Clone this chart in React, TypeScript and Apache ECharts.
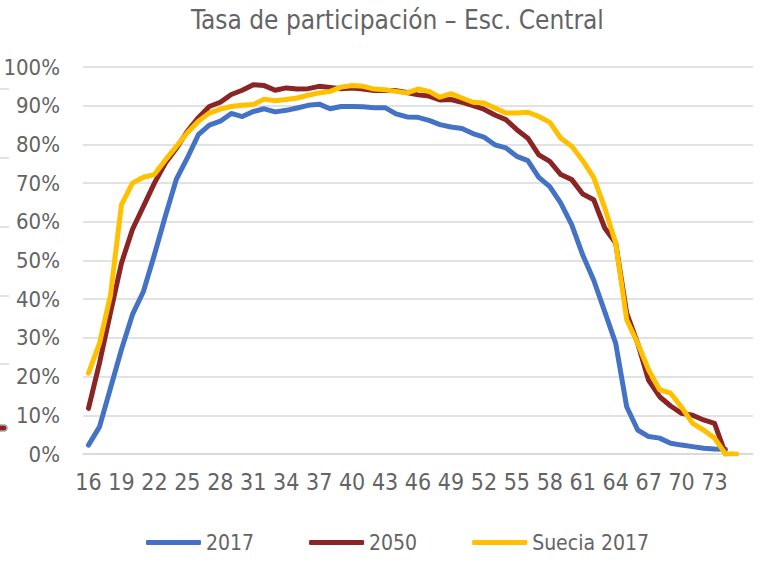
import React, { useEffect, useRef } from "react";
import * as echarts from "echarts";

const ages: string[] = [];
for (let a = 16; a <= 76; a++) ages.push(String(a));

const yTicks = [0, 10, 20, 30, 40, 50, 60, 70, 80, 90, 100];

const s2017: (number | null)[] = [
  2.3, 7, 17, 27, 36, 42, 51.5, 61.5, 71, 76.5,
  82.5, 85, 86, 88, 87.2, 88.5, 89.2, 88.4, 88.8, 89.4,
  90.1, 90.4, 89.2, 89.8, 89.8, 89.7, 89.5, 89.5, 87.9, 87.1,
  87, 86.2, 85.1, 84.5, 84.1, 82.8, 81.9, 79.9, 79.1, 76.9,
  75.8, 71.5, 69.1, 64.8, 59.2, 51.4, 44.9, 36.8, 28.6, 12.2,
  6.2, 4.5, 4.1, 2.8, 2.3, 1.9, 1.5, 1.3, 1.2, null, null,
];

const s2050: (number | null)[] = [
  11.8, 23.5, 36.5, 49.3, 58, 64, 70, 75.2, 79, 83.4,
  86.9, 89.8, 90.9, 92.9, 94, 95.4, 95.2, 94, 94.6, 94.3,
  94.4, 95, 94.7, 94.4, 94.6, 94.3, 93.9, 93.9, 93.9, 93.4,
  92.8, 92.5, 91.5, 91.6, 90.9, 90, 89.1, 87.6, 86.4, 83.8,
  81.6, 77.3, 75.6, 72.2, 70.9, 67.2, 65.7, 58.4, 54.5, 36.4,
  28.6, 19, 14.8, 12.4, 10.5, 10, 8.8, 7.9, 0, null, null,
];

const sSuecia: (number | null)[] = [
  20.9, 28.6, 41, 64.4, 70, 71.5, 72.2, 76, 79.5, 83,
  86, 88.1, 89.1, 89.8, 90.1, 90.3, 91.7, 91.3, 91.6, 92,
  92.7, 93.3, 93.7, 94.8, 95.2, 95, 94.3, 94.1, 93.7, 93.3,
  94.3, 93.7, 92.2, 93.1, 92, 90.9, 90.7, 89.4, 88.1, 88.1,
  88.3, 87.2, 85.7, 81.6, 79.5, 75.8, 71.4, 63.6, 54.5, 34.7,
  28.6, 21.7, 16.6, 15.7, 12.1, 7.9, 6.2, 4.1, 0, 0, null,
];

const seriesNames = ["2017", "2050", "Suecia 2017"];
const colors = ["#4472C4", "#8B2525", "#FFC000"];

const FONT = "'Liberation Sans Narrow', 'DejaVu Sans Condensed', 'Roboto', sans-serif";
const TEXT_COLOR = "#646464";

export default function App() {
  const ref = useRef<HTMLDivElement>(null);
  useEffect(() => {
    if (!ref.current) return;
    const chart = echarts.init(ref.current, null, { renderer: "svg" });
    const mk = (name: string, data: (number | null)[], color: string) => ({
      name,
      type: "line",
      data,
      symbol: "none",
      showSymbol: false,
      connectNulls: false,
      color,
      lineStyle: { width: 5, color, cap: "round", join: "round" },
    });
    chart.setOption({
      animation: false,
      backgroundColor: "#ffffff",
      textStyle: { fontFamily: FONT },
      title: {
        text: "Tasa de participación – Esc. Central",
        left: 186,
        top: 2,
        textStyle: { fontFamily: FONT, fontSize: 26, fontWeight: "normal", color: TEXT_COLOR },
      },
      legend: {
        left: 146,
        top: 532,
        padding: 0,
        icon: "roundRect",
        itemWidth: 55,
        itemHeight: 5,
        itemGap: 55,
        textStyle: { fontFamily: FONT, fontSize: 21, color: TEXT_COLOR },
        data: seriesNames,
      },
      grid: { left: 83, right: 8, top: 67, bottom: 109 },
      xAxis: {
        type: "category",
        data: ages,
        boundaryGap: true,
        axisTick: { show: false },
        axisLine: { lineStyle: { color: "#d9d9d9", width: 1.5 } },
        axisLabel: {
          interval: (i: number) => i % 3 === 0 && i < 60,
          margin: 16,
          fontFamily: FONT,
          fontSize: 23,
          color: TEXT_COLOR,
        },
      },
      yAxis: {
        type: "value",
        min: yTicks[0],
        max: yTicks[yTicks.length - 1],
        interval: 10,
        axisLine: { show: false },
        axisTick: { show: false },
        splitLine: { lineStyle: { color: "#d9d9d9", width: 1.5 } },
        axisLabel: {
          formatter: (v: number) => v + "%",
          margin: 23,
          fontFamily: FONT,
          fontSize: 22,
          color: TEXT_COLOR,
        },
      },
      graphic: [
        ...[89, 158, 227, 296, 364].map((y) => ({
          type: "line",
          shape: { x1: 0, y1: y, x2: 9, y2: y },
          style: { stroke: "#d9d9d9", lineWidth: 1.5 },
        })),
        {
          type: "rect",
          shape: { x: -6, y: 425, width: 13, height: 6, r: 3 },
          style: { fill: "#8B2525", stroke: "#a6a6a6", lineWidth: 1.5 },
        },
      ],
      series: [
        mk(seriesNames[0], s2017, colors[0]),
        mk(seriesNames[1], s2050, colors[1]),
        mk(seriesNames[2], sSuecia, colors[2]),
      ],
    });
    return () => chart.dispose();
  }, []);
  return (
    <div
      ref={ref}
      style={{ position: "fixed", left: 0, top: 0, width: 761, height: 563 }}
    />
  );
}
